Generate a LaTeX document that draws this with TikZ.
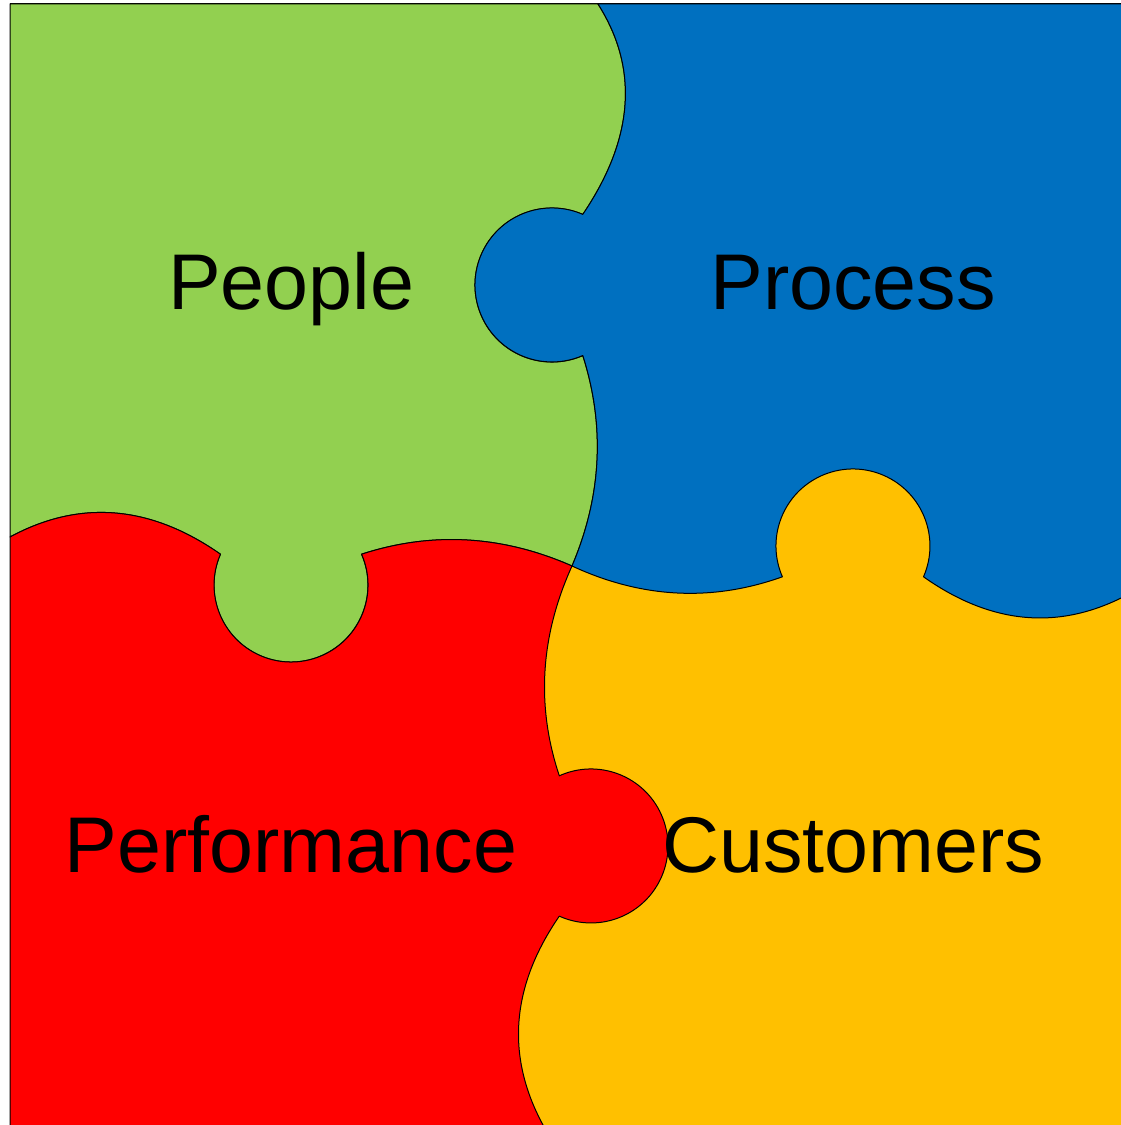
\documentclass[tikz,border=0pt]{standalone}
\usepackage{fontspec}
\setmainfont{Liberation Sans}
\definecolor{pgreen}{HTML}{92D050}
\definecolor{pblue}{HTML}{0070C0}
\definecolor{pred}{HTML}{FF0000}
\definecolor{pyellow}{HTML}{FFC000}
\begin{document}
\begin{tikzpicture}[x=1pt,y=1pt,
  piece/.style={draw=black, line width=1pt, line join=round},
  lbl/.style={font=\fontsize{79}{92}\selectfont, text=black, anchor=base, inner sep=0pt}]
\useasboundingbox (0,0) rectangle (1120,1125);
\fill[white] (-10,-10) rectangle (1130,1135);
% yellow (Customers) piece = remainder
\path[piece, fill=pyellow] (10,-20) rectangle (1180,1121);
% green (People)
\path[piece, fill=pgreen] (10,1121) -- (598,1121)
  .. controls (639.1,1056.5) and (634.0,986.3) .. (582.8,910.5)
  arc[start angle=66.4, end angle=293.6, radius=77pt]
  .. controls (605.3,699.0) and (601.7,628.8) .. (572,559)
  .. controls (502.2,589.7) and (432.0,593.7) .. (361.5,570.8)
  arc[start angle=23.6, end angle=-203.6, radius=77pt]
  .. controls (150.0,620.0) and (79.8,625.7) .. (10,588) -- cycle;
% blue (Process)
\path[piece, fill=pblue] (598,1121) -- (1180,1121) -- (1180,548.2) -- (1156.5,548.2)
  .. controls (1078.8,493.3) and (1001.2,493.3) .. (923.5,548.2)
  arc[start angle=-23.6, end angle=203.6, radius=77pt]
  .. controls (712.0,523.0) and (641.8,526.6) .. (572,559)
  .. controls (601.7,628.8) and (605.3,699.0) .. (582.8,769.5)
  arc[start angle=-66.4, end angle=-293.6, radius=77pt]
  .. controls (634.0,986.3) and (639.1,1056.5) .. (598,1121) -- cycle;
% red (Performance)
\path[piece, fill=pred] (10,588)
  .. controls (79.8,625.7) and (150.0,620.0) .. (220.5,570.8)
  arc[start angle=156.4, end angle=383.6, radius=77pt]
  .. controls (432.0,593.7) and (502.2,589.7) .. (572,559)
  .. controls (540.2,488.9) and (536.0,419.0) .. (559.3,349.2)
  arc[start angle=114.3, end angle=-114.3, radius=77pt]
  .. controls (511.0,138.7) and (505.6,69.1) .. (543,0)
  -- (548,-20) -- (10,-20) -- cycle;
% labels
\node[lbl] (people) at (291,815) {People};
\node[lbl] (process) at (853,815) {Process};
\node[lbl] (performance) at (291,252) {Performance};
\node[lbl] (customers) at (853,252) {Customers};
\end{tikzpicture}
\end{document}
